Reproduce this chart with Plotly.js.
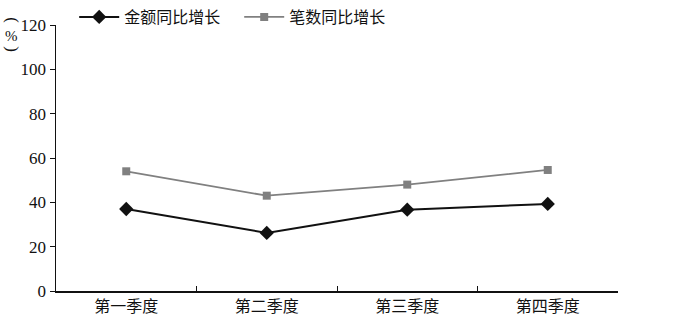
<!DOCTYPE html>
<html><head><meta charset="utf-8">
<script src="https://cdn.plot.ly/plotly-3.0.1.min.js"></script>
<style>html,body{margin:0;padding:0;background:#fff}</style>
</head><body>
<div id="chart" style="width:687px;height:317px"></div>
<script>
const categories = ["第一季度", "第二季度", "第三季度", "第四季度"];
const amountGrowth = [37, 26.2, 36.7, 39.3];
const countGrowth = [54, 43, 48, 54.6];
const seriesNames = ["金额同比增长", "笔数同比增长"];
const yTicks = [0, 20, 40, 60, 80, 100, 120];

const serif = "'Liberation Serif', 'Noto Sans CJK SC', serif";
const cjk = "'Noto Sans CJK SC', sans-serif";
const traces = [
  {x: categories, y: amountGrowth, name: seriesNames[0], type: "scatter", mode: "lines+markers",
   line: {color: "#111111", width: 2}, marker: {symbol: "diamond", size: 11, color: "#111111"}},
  {x: categories, y: countGrowth, name: seriesNames[1], type: "scatter", mode: "lines+markers",
   line: {color: "#808080", width: 1.8}, marker: {symbol: "square", size: 8, color: "#808080"}}
];
const layout = {
  width: 687, height: 317,
  margin: {l: 56, r: 69, t: 25, b: 26, autoexpand: false},
  paper_bgcolor: "#fff", plot_bgcolor: "#fff",
  font: {family: serif, size: 16, color: "#111"},
  showlegend: true,
  legend: {orientation: "h", xref: "container", yref: "container", x: 0.108, y: 1.0,
           yanchor: "top", xanchor: "left",
           font: {family: cjk, size: 16, color: "#111"},
           itemwidth: 40, entrywidth: 110, entrywidthmode: "pixels", bgcolor: "rgba(0,0,0,0)"},
  xaxis: {type: "category", range: [-0.5, 3.5], showline: true, linecolor: "#111", linewidth: 1.5,
          ticks: "inside", tickson: "boundaries", ticklen: 5, tickcolor: "#111",
          showgrid: false, zeroline: false, automargin: false,
          tickfont: {family: cjk, size: 16, color: "#111"}},
  yaxis: {range: [0, 120], tickvals: yTicks, showline: true, linecolor: "#111", linewidth: 1.5,
          ticks: "outside", ticklen: 5, tickcolor: "#111", showgrid: false, zeroline: false,
          automargin: false, tickfont: {family: serif, size: 17, color: "#111"}},
  annotations: [
    {text: "(", xref: "paper", yref: "paper", x: -0.079, y: 1.019, textangle: 90,
     xanchor: "center", yanchor: "middle", showarrow: false, font: {family: serif, size: 17, color: "#111"}},
    {text: "%", xref: "paper", yref: "paper", x: -0.079, y: 0.959,
     xanchor: "center", yanchor: "middle", showarrow: false, font: {family: serif, size: 15, color: "#111"}},
    {text: ")", xref: "paper", yref: "paper", x: -0.079, y: 0.910, textangle: 90,
     xanchor: "center", yanchor: "middle", showarrow: false, font: {family: serif, size: 17, color: "#111"}}
  ]
};
Plotly.newPlot("chart", traces, layout, {displayModeBar: false, staticPlot: true});
</script>
</body></html>
